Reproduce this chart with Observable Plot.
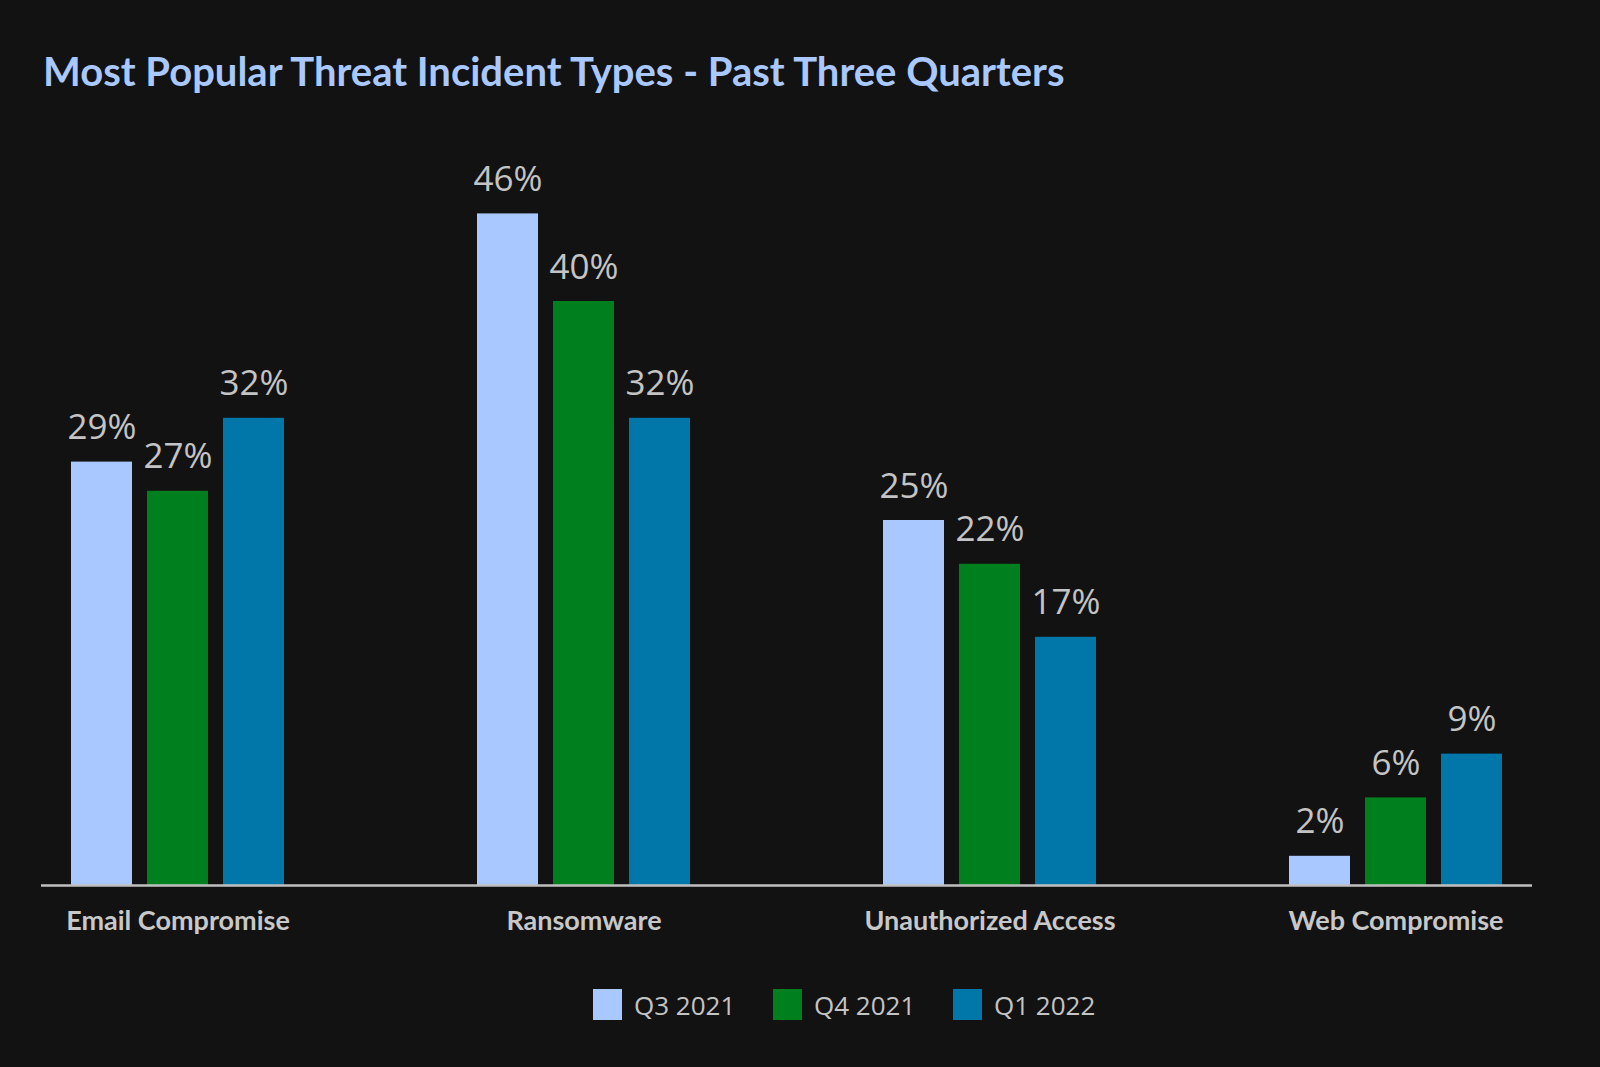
<!DOCTYPE html>
<html>
<head>
<meta charset="utf-8">
<script src="https://cdn.jsdelivr.net/npm/d3@7"></script>
<script src="https://cdn.jsdelivr.net/npm/@observablehq/plot@0.6"></script>
<style>
  html, body { margin: 0; padding: 0; background: #121212; width: 1600px; height: 1067px; overflow: hidden; }
  #title { position: absolute; left: 43px; top: 47px; margin: 0; font-family: Lato, sans-serif; font-weight: 700; font-size: 40px; line-height: 1.2; color: #a8c8ff; white-space: nowrap; }
  #chart { position: absolute; left: 0; top: 110px; }
  #legend { position: absolute; left: 593px; top: 989px; display: flex; font-family: "Open Sans", sans-serif; font-size: 26px; color: #c4c4c4; }
  .item { display: flex; align-items: center; width: 180px; height: 31px; }
  .sw { width: 29px; height: 31px; margin-right: 12px; flex: none; }
</style>
</head>
<body>
<h1 id="title">Most Popular Threat Incident Types - Past Three Quarters</h1>
<div id="chart"></div>
<div id="legend"></div>
<script>
const categories = ["Email Compromise", "Ransomware", "Unauthorized Access", "Web Compromise"];
const quarters = ["Q3 2021", "Q4 2021", "Q1 2022"];
const q3_2021 = [29, 46, 25, 2];
const q4_2021 = [27, 40, 22, 6];
const q1_2022 = [32, 32, 17, 9];
const colors = ["#a8c8ff", "#007f1e", "#0077a8"];

const series = [q3_2021, q4_2021, q1_2022];
const rows = [];
quarters.forEach((q, i) => categories.forEach((c, j) => rows.push({category: c, quarter: q, value: series[i][j]})));

const step = 76;
const marks = [];
quarters.forEach((q, i) => {
  const sub = rows.filter(d => d.quarter === q);
  marks.push(Plot.barY(sub, {x: "category", y: "value", fill: "quarter", dx: (i - 1) * step, insetLeft: 10, insetRight: 10}));
  marks.push(Plot.text(sub, {x: "category", y: "value", text: d => d.value + "%", dx: (i - 1) * step, dy: -23, lineAnchor: "bottom", fontSize: 35, fontFamily: "Open Sans", fill: "#c4c4c4"}));
});

const chart = Plot.plot({
  width: 1600,
  height: 850,
  marginLeft: 41,
  marginRight: 68,
  marginTop: 45,
  marginBottom: 75,
  style: {background: "transparent", color: "#c8c8c8", fontFamily: "Lato"},
  x: {domain: categories, paddingInner: 0.8, paddingOuter: 0.235, axis: null},
  y: {domain: [0, 50], axis: null},
  color: {domain: quarters, range: colors},
  marks: [
    ...marks,
    Plot.ruleY([0], {stroke: "#c0c0c0", strokeWidth: 2.5}),
    Plot.axisX({tickSize: 0, tickPadding: 25, fontSize: 27, fontWeight: 700, fontFamily: "Lato", fill: "#c8c8c8", label: null})
  ]
});
document.getElementById("chart").appendChild(chart);

const legend = document.getElementById("legend");
quarters.forEach((q, i) => {
  const item = document.createElement("div");
  item.className = "item";
  const sw = document.createElement("span");
  sw.className = "sw";
  sw.style.background = colors[i];
  const t = document.createElement("span");
  t.textContent = q;
  item.appendChild(sw);
  item.appendChild(t);
  legend.appendChild(item);
});
</script>
</body>
</html>
